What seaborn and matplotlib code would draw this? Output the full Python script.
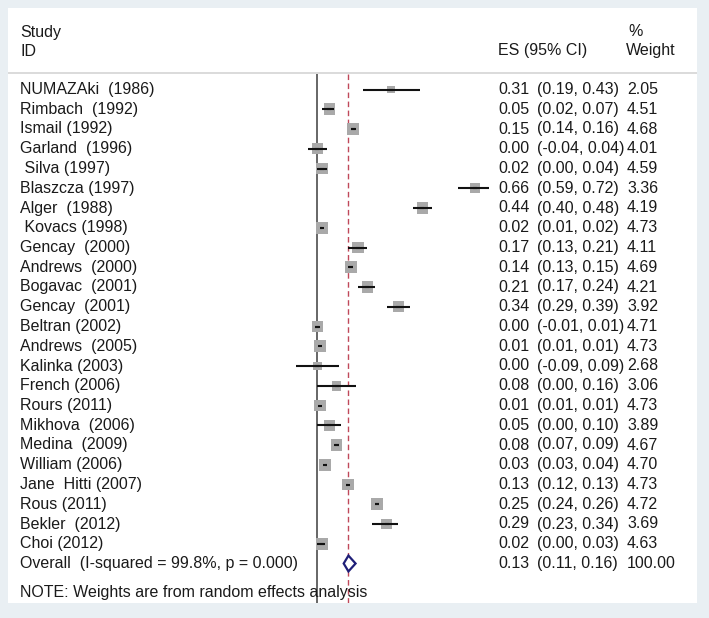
import matplotlib
matplotlib.use("Agg")
import matplotlib.pyplot as plt
from matplotlib.patches import Polygon
from matplotlib import transforms
import seaborn as sns
import pandas as pd

# ---------------- data ----------------
studies = ["NUMAZAki  (1986)", "Rimbach  (1992)", "Ismail (1992)", "Garland  (1996)",
           " Silva (1997)", "Blaszcza (1997)", "Alger  (1988)", " Kovacs (1998)",
           "Gencay  (2000)", "Andrews  (2000)", "Bogavac  (2001)", "Gencay  (2001)",
           "Beltran (2002)", "Andrews  (2005)", "Kalinka (2003)", "French (2006)",
           "Rours (2011)", "Mikhova  (2006)", "Medina  (2009)", "William (2006)",
           "Jane  Hitti (2007)", "Rous (2011)", "Bekler  (2012)", "Choi (2012)"]
es = [0.31, 0.05, 0.15, 0.00, 0.02, 0.66, 0.44, 0.02, 0.17, 0.14, 0.21, 0.34,
      0.00, 0.01, 0.00, 0.08, 0.01, 0.05, 0.08, 0.03, 0.13, 0.25, 0.29, 0.02]
lo = [0.19, 0.02, 0.14, -0.04, 0.00, 0.59, 0.40, 0.01, 0.13, 0.13, 0.17, 0.29,
      -0.01, 0.01, -0.09, 0.00, 0.01, 0.00, 0.07, 0.03, 0.12, 0.24, 0.23, 0.00]
hi = [0.43, 0.07, 0.16, 0.04, 0.04, 0.72, 0.48, 0.02, 0.21, 0.15, 0.24, 0.39,
      0.01, 0.01, 0.09, 0.16, 0.01, 0.10, 0.09, 0.04, 0.13, 0.26, 0.34, 0.03]
weight = [2.05, 4.51, 4.68, 4.01, 4.59, 3.36, 4.19, 4.73, 4.11, 4.69, 4.21, 3.92,
          4.71, 4.73, 2.68, 3.06, 4.73, 3.89, 4.67, 4.70, 4.73, 4.72, 3.69, 4.63]

overall_label = "Overall  (I-squared = 99.8%, p = 0.000)"
overall_es, overall_lo, overall_hi, overall_w = 0.13, 0.11, 0.16, 100.00
note = "NOTE: Weights are from random effects analysis"

# ---------------- figure ----------------
W, H = 709, 618
sns.set_style("white")
plt.rcParams["font.family"] = ["Liberation Sans", "DejaVu Sans"]
FS = 11.5
TXT = "#1a1a1a"

fig = plt.figure(figsize=(W / 100, H / 100), dpi=100)
fig.patch.set_facecolor("#e9eff3")

# panel (white) in pixel coordinates
pl, pr, pt, pb = 8, 697, 8, 603
ax = fig.add_axes([pl / W, 1 - pb / H, (pr - pl) / W, (pb - pt) / H])
ax.set_facecolor("white")
for s in ax.spines.values():
    s.set_visible(False)
ax.set_xticks([])
ax.set_yticks([])

x0px, scale = 317.5, 238.0          # pixel of value 0, pixels per unit
row0px, rowh = 89.5, 19.75          # pixel of row 0, row height
ax.set_xlim((pl - x0px) / scale, (pr - x0px) / scale)
ax.set_ylim((pb - row0px) / rowh, (pt - row0px) / rowh)

def fx(px):
    return px / W

def fy(py):
    return 1 - py / H

df = pd.DataFrame({"study": studies, "es": es, "lo": lo, "hi": hi, "w": weight})
df["row"] = range(len(df))
n = len(df)

# reference lines
ytop = (74 - row0px) / rowh
ybot = (pb - row0px) / rowh
ax.vlines(0, ytop, ybot, color="#5a5a5a", lw=1.3, zorder=1)
ax.vlines(overall_es, ytop, ybot, color="#c0485a", lw=1.0,
          linestyles=(0, (4, 2.5)), zorder=1)

# header separator
ax.axhline((73 - row0px) / rowh, color="#d4d4d4", lw=1.2, zorder=1)

# boxes (area proportional to weight)
k = 15.5
sns.scatterplot(data=df, x="es", y="row", size="w",
                sizes=(k * min(weight), k * max(weight)),
                marker="s", color="#a9a9a9", linewidth=0, legend=False,
                ax=ax, zorder=2)
# confidence intervals
ax.hlines(df["row"], df["lo"], df["hi"], color="#111111", lw=1.5, zorder=3)
ax.plot(df["es"], df["row"], ls="none", marker="_", ms=3.5, mew=1.5,
        color="#111111", zorder=3)

# overall diamond
yo = n
dh = 0.40
diamond = Polygon([(overall_lo, yo), (overall_es, yo - dh), (overall_hi, yo),
                   (overall_es, yo + dh)], closed=True, facecolor="white",
                  edgecolor="#1f1f78", lw=1.6, zorder=4)
ax.add_patch(diamond)
ax.set_xlabel("")
ax.set_ylabel("")

# text columns
tr = transforms.blended_transform_factory(fig.transFigure, ax.transData)
for i, r in df.iterrows():
    fig.text(fx(20), r["row"], r["study"], transform=tr, fontsize=FS,
             va="center", ha="left", color=TXT)
    fig.text(fx(498), r["row"], f"{r['es']:.2f}", transform=tr, fontsize=FS,
             va="center", ha="left", color=TXT)
    fig.text(fx(537), r["row"], f"({r['lo']:.2f}, {r['hi']:.2f})", transform=tr,
             fontsize=FS, va="center", ha="left", color=TXT)
    fig.text(fx(627), r["row"], f"{r['w']:.2f}", transform=tr, fontsize=FS,
             va="center", ha="left", color=TXT)

fig.text(fx(20), yo, overall_label, transform=tr, fontsize=FS, va="center",
         ha="left", color=TXT)
fig.text(fx(498), yo, f"{overall_es:.2f}", transform=tr, fontsize=FS,
         va="center", ha="left", color=TXT)
fig.text(fx(537), yo, f"({overall_lo:.2f}, {overall_hi:.2f})", transform=tr,
         fontsize=FS, va="center", ha="left", color=TXT)
fig.text(fx(627), yo, f"{overall_w:.2f}", transform=tr, fontsize=FS,
         va="center", ha="left", color=TXT)

fig.text(fx(20), fy(593), note, fontsize=FS, va="center", ha="left", color=TXT)

# headers
fig.text(fx(20), fy(32), "Study", fontsize=FS, va="center", ha="left", color=TXT)
fig.text(fx(20), fy(51), "ID", fontsize=FS, va="center", ha="left", color=TXT)
fig.text(fx(498), fy(51), "ES (95% CI)", fontsize=FS, va="center", ha="left", color=TXT)
fig.text(fx(628), fy(32), "%", fontsize=FS, va="center", ha="left", color=TXT)
fig.text(fx(626), fy(51), "Weight", fontsize=FS, va="center", ha="left", color=TXT)

fig.savefig("out.png", dpi=100, facecolor=fig.get_facecolor())
